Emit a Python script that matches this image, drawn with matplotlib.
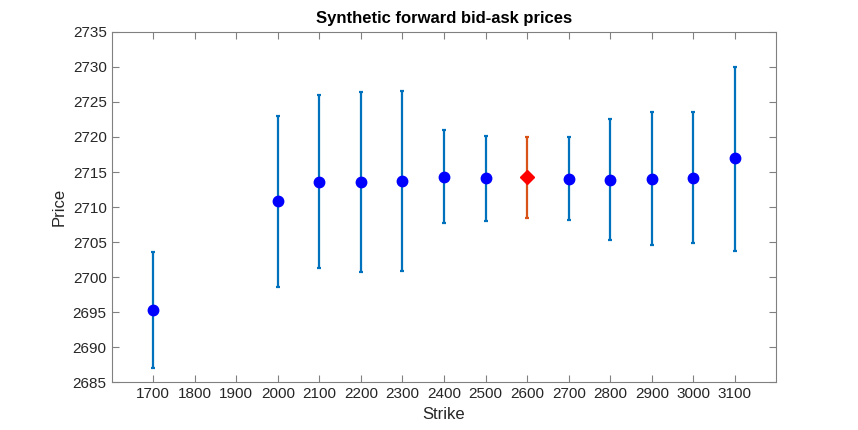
import matplotlib.pyplot as plt

plt.rcParams['font.family'] = ['Liberation Sans', 'DejaVu Sans']

# synthetic forward bid/ask per strike
strikes = [1700, 2000, 2100, 2200, 2300, 2400, 2500, 2700, 2800, 2900, 3000, 3100]
mid = [2695.35, 2710.8, 2713.6, 2713.55, 2713.65, 2714.3, 2714.1, 2714.05, 2713.9, 2714.05, 2714.2, 2716.95]
ask = [2703.65, 2723.0, 2726.0, 2726.4, 2726.5, 2721.05, 2720.2, 2719.95, 2722.5, 2723.55, 2723.55, 2730.0]
bid = [2687.1, 2698.55, 2701.3, 2700.8, 2700.9, 2707.7, 2708.0, 2708.2, 2705.35, 2704.65, 2704.9, 2703.8]

# selected strike
sel_strike = 2600
sel_mid = 2714.25
sel_ask = 2720.0
sel_bid = 2708.5

ticks_x = [1700, 1800, 1900, 2000, 2100, 2200, 2300, 2400, 2500, 2600, 2700, 2800, 2900, 3000, 3100]

fig = plt.figure(figsize=(8.58, 4.3), dpi=100)
ax = fig.add_axes([0.130, 0.111, 0.775, 0.815])

yerr = [[m - b for m, b in zip(mid, bid)], [a - m for a, m in zip(ask, mid)]]
ax.errorbar(strikes, mid, yerr=yerr, fmt='none', ecolor='#0072BD', elinewidth=1.6,
            capsize=1.5, capthick=1.6)
ax.plot(strikes, mid, 'o', color='blue', markersize=7.5)

ax.errorbar([sel_strike], [sel_mid], yerr=[[sel_mid - sel_bid], [sel_ask - sel_mid]],
            fmt='none', ecolor='#D95319', elinewidth=1.6, capsize=1.5, capthick=1.6)
ax.plot([sel_strike], [sel_mid], 'D', color='red', markersize=7)

ax.set_xlim(1600, 3200)
ax.set_ylim(2685, 2735)
ax.set_xticks(ticks_x)
ax.set_yticks(range(2685, 2736, 5))
ax.tick_params(direction='in', top=True, right=True, length=5, color='#808080',
               labelsize=11, labelcolor='#262626')
for s in ax.spines.values():
    s.set_color('#808080')
    s.set_linewidth(0.8)

ax.set_title('Synthetic forward bid-ask prices', fontsize=12, fontweight='bold', pad=6)
ax.set_xlabel('Strike', fontsize=12, color='#262626')
ax.set_ylabel('Price', fontsize=12, color='#262626')

fig.savefig('out.png', dpi=100)
